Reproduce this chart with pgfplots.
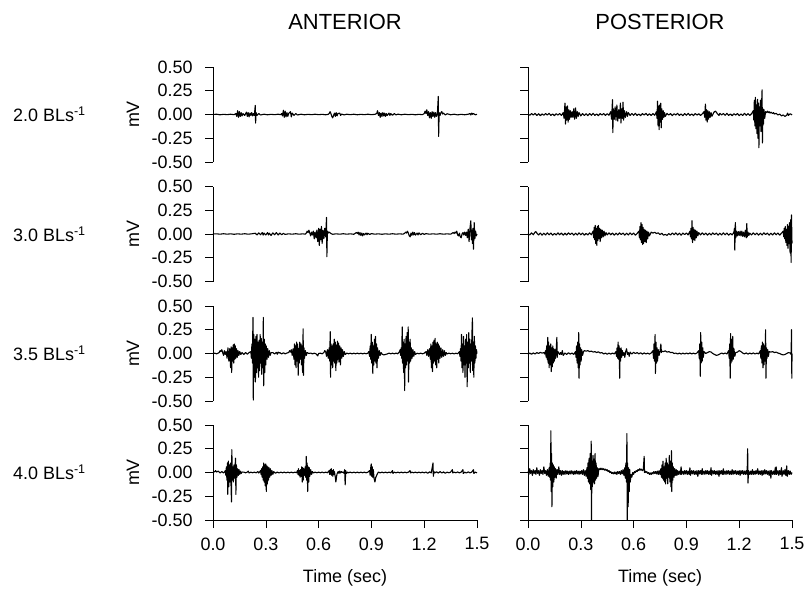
\documentclass[border=0pt]{standalone}
\usepackage{pgfplots}
\pgfplotsset{compat=1.18}
\usepackage{fontspec}
\setmainfont{Liberation Sans}
\pgfplotsset{
  emg/.style={
    scale only axis, width=264bp, height=95bp,
    xmin=0, xmax=1.5, ymin=-0.5, ymax=0.5,
    axis y line*=left,
    axis line style={-, line width=0.6pt, black},
    ytick={-0.5,-0.25,0,0.25,0.5},
    tick align=outside, major tick length=8bp,
    tick style={line width=0.6pt, black},
    /pgf/number format/assume math mode=true,
    yticklabel style={font=\fontsize{18}{18}\selectfont, xshift=-9bp, /pgf/number format/fixed, /pgf/number format/fixed zerofill, /pgf/number format/precision=2},
    xticklabel style={font=\fontsize{18}{18}\selectfont, yshift=-6bp, /pgf/number format/fixed, /pgf/number format/fixed zerofill, /pgf/number format/precision=1},
    clip=false,
    cycle list={{black, mark=none}},
    every axis plot post/.append style={black, line width=1.1pt, line join=round, mark=none},
  },
  toprow/.style={axis x line=none},
  bottomrow/.style={axis x line*=bottom, xtick={0,0.3,0.6,0.9,1.2,1.5}},
  rightcol/.style={yticklabels={}},
}
\begin{document}
\begin{tikzpicture}
\useasboundingbox (0,0) rectangle (805bp,-593bp);
% ---------------- Anterior 2.0
\begin{axis}[emg, toprow, at={(213bp,-67bp)}, anchor=north west]
\addplot coordinates {(0,0) (0.02,0.003) (0.04,-0.003) (0.06,0.002) (0.08,-0.002) (0.1,0.003) (0.12,-0.002)
(0.13,0.01) (0.135,-0.02) (0.14,0.04) (0.145,-0.03) (0.15,0.03) (0.155,-0.02) (0.16,0.02) (0.165,-0.015) (0.17,0.01) (0.18,-0.01) (0.19,0.025) (0.195,-0.02) (0.2,0.02) (0.205,-0.025) (0.21,0.015) (0.215,-0.01) (0.22,0.02) (0.225,-0.015) (0.23,0.01) (0.235,-0.01) (0.24,0.095) (0.242,-0.09) (0.245,0.02) (0.25,-0.01) (0.26,0.01) (0.27,-0.005)
(0.29,0.003) (0.31,-0.003) (0.33,0.002) (0.35,-0.002) (0.37,0.003) (0.385,-0.002)
(0.39,0.01) (0.395,-0.015) (0.4,0.045) (0.405,-0.03) (0.41,0.035) (0.415,-0.025) (0.42,0.02) (0.425,-0.02) (0.43,0.01) (0.44,0.03) (0.445,-0.025) (0.45,0.015) (0.46,-0.01) (0.47,0.01) (0.48,-0.005)
(0.5,0.003) (0.52,-0.003) (0.54,0.002) (0.56,-0.002) (0.58,0.003) (0.6,-0.002) (0.62,0.002) (0.64,-0.003) (0.655,0.002)
(0.66,0.01) (0.665,0.03) (0.67,0.01) (0.675,-0.02) (0.68,-0.035) (0.685,-0.01) (0.69,0.015) (0.695,-0.02) (0.7,0.02) (0.705,-0.015) (0.71,0.01) (0.72,0.015) (0.725,-0.01) (0.73,0.005) (0.745,-0.004)
(0.76,0.003) (0.78,-0.002) (0.8,0.003) (0.82,-0.003) (0.84,0.002) (0.86,-0.002) (0.88,0.003) (0.9,-0.002) (0.92,0.002)
(0.93,0.01) (0.935,0.04) (0.94,-0.01) (0.945,0.02) (0.95,-0.03) (0.955,0.015) (0.96,-0.02) (0.965,0.02) (0.97,-0.015) (0.975,0.015) (0.98,-0.02) (0.985,0.01) (0.99,-0.01) (1.0,0.015) (1.005,-0.01) (1.01,0.01) (1.02,-0.008) (1.03,0.01) (1.04,-0.005) (1.05,0.004)
(1.07,-0.003) (1.09,0.003) (1.11,-0.002) (1.13,0.002) (1.15,-0.003) (1.17,0.002) (1.19,-0.002)
(1.2,0.01) (1.205,0.035) (1.21,0.01) (1.215,0.05) (1.22,-0.01) (1.225,0.03) (1.23,-0.035) (1.235,0.02) (1.24,-0.04) (1.245,0.03) (1.25,-0.02) (1.255,0.025) (1.26,-0.03) (1.265,0.02) (1.27,-0.02) (1.275,0.01) (1.28,0.19) (1.282,-0.23) (1.285,0.02) (1.29,-0.01) (1.295,0.02) (1.3,0.03) (1.305,0.005) (1.31,0.015) (1.32,-0.005) (1.33,0.008)
(1.35,-0.003) (1.37,0.003) (1.39,-0.004) (1.41,0.002) (1.43,-0.003) (1.45,0.003) (1.46,0.01) (1.465,-0.005) (1.47,0.015) (1.475,0.002) (1.48,0.01) (1.49,-0.003) (1.5,0.002)};
\end{axis}
% ---------------- Posterior 2.0
\begin{axis}[emg, toprow, rightcol, at={(528bp,-67bp)}, anchor=north west]
\addplot coordinates {(0,0.005) (0.01,-0.008) (0.02,0.01) (0.03,-0.006) (0.04,0.012) (0.05,-0.01) (0.06,0.008) (0.07,-0.012) (0.08,0.006) (0.09,-0.008) (0.1,0.01) (0.11,-0.006) (0.12,0.012) (0.13,-0.01) (0.14,0.006) (0.15,-0.012) (0.16,0.008) (0.17,-0.006) (0.18,0.01) (0.19,-0.01)
(0.2,0.02) (0.205,-0.04) (0.21,0.12) (0.213,-0.1) (0.217,0.08) (0.22,-0.06) (0.224,0.09) (0.228,-0.08) (0.232,0.05) (0.236,-0.05) (0.24,0.04) (0.245,-0.03) (0.25,0.03) (0.255,-0.03) (0.26,0.06) (0.265,-0.05) (0.27,0.07) (0.275,-0.04) (0.28,0.03) (0.285,-0.02) (0.29,0.02) (0.3,-0.015) (0.31,0.01)
(0.32,-0.01) (0.33,0.008) (0.34,-0.012) (0.35,0.01) (0.36,-0.008) (0.37,0.012) (0.38,-0.01) (0.39,0.006) (0.4,-0.012) (0.41,0.01) (0.42,-0.006) (0.43,0.01) (0.44,-0.01) (0.45,0.008) (0.46,-0.008)
(0.47,0.03) (0.475,-0.05) (0.48,0.155) (0.482,-0.19) (0.485,0.06) (0.49,-0.05) (0.495,0.08) (0.5,-0.06) (0.505,0.1) (0.51,-0.07) (0.515,0.05) (0.52,-0.04) (0.525,0.12) (0.528,-0.09) (0.532,0.06) (0.536,-0.04) (0.54,0.13) (0.543,-0.06) (0.548,0.04) (0.553,-0.03) (0.56,0.03) (0.565,-0.02) (0.57,0.02) (0.58,-0.01)
(0.59,0.01) (0.6,-0.008) (0.61,0.012) (0.62,-0.01) (0.63,0.006) (0.64,-0.012) (0.65,0.01) (0.66,-0.006) (0.67,0.012) (0.68,-0.01) (0.69,0.008) (0.7,-0.01) (0.71,0.01) (0.72,-0.008)
(0.73,0.03) (0.733,-0.04) (0.736,0.14) (0.739,-0.12) (0.742,0.09) (0.745,-0.16) (0.748,0.1) (0.751,-0.08) (0.754,0.12) (0.757,-0.14) (0.76,0.06) (0.764,-0.05) (0.768,0.04) (0.772,-0.03) (0.776,0.02) (0.78,-0.02)
(0.79,0.012) (0.8,-0.006) (0.81,0.01) (0.82,-0.012) (0.83,0.008) (0.84,-0.006) (0.85,0.012) (0.86,-0.01) (0.87,0.006) (0.88,-0.012) (0.89,0.01) (0.9,-0.008) (0.91,0.012) (0.92,-0.01) (0.93,0.006) (0.94,-0.012) (0.95,0.01) (0.96,-0.006) (0.97,0.008) (0.98,-0.01) (0.99,0.006)
(1.0,0.03) (1.004,-0.03) (1.008,0.11) (1.011,-0.06) (1.014,0.05) (1.018,-0.08) (1.022,0.04) (1.026,-0.05) (1.03,0.03) (1.035,-0.03) (1.04,0.02) (1.045,-0.02)
(1.05,0.0) (1.055,0.02) (1.06,0.03) (1.065,0.035) (1.07,0.025) (1.075,0.01) (1.08,0.0) (1.085,-0.01)
(1.09,0.012) (1.1,-0.004) (1.11,0.01) (1.12,-0.008) (1.13,0.012) (1.14,-0.01) (1.15,0.006) (1.16,-0.012) (1.17,0.008) (1.18,-0.006) (1.19,0.01) (1.2,-0.012) (1.21,0.006) (1.22,-0.01) (1.23,0.012) (1.24,-0.008) (1.25,0.01) (1.26,-0.01) (1.27,0.008)
(1.28,0.04) (1.283,-0.06) (1.286,0.15) (1.289,-0.12) (1.292,0.18) (1.295,-0.15) (1.298,0.1) (1.301,-0.2) (1.304,0.16) (1.307,-0.25) (1.31,0.12) (1.312,-0.35) (1.315,0.08) (1.318,-0.12) (1.321,0.15) (1.324,-0.18) (1.327,0.1) (1.33,0.26) (1.332,-0.3) (1.335,0.06) (1.338,-0.1) (1.341,0.05) (1.345,-0.04) (1.35,0.03)
(1.355,0.02) (1.36,0.035) (1.365,0.02) (1.37,0.03) (1.375,0.015) (1.38,0.025) (1.39,0.01) (1.395,0.02) (1.4,0.005) (1.41,0.012) (1.42,-0.005) (1.43,0.005) (1.44,-0.015) (1.45,-0.005) (1.46,-0.02) (1.47,-0.008) (1.475,0.015) (1.48,-0.01) (1.49,0.008) (1.5,-0.004)};
\end{axis}
% ---------------- Anterior 3.0
\begin{axis}[emg, toprow, at={(213bp,-186.5bp)}, anchor=north west]
\addplot coordinates {(0,0) (0.02,0.002) (0.04,-0.002) (0.06,0.003) (0.08,-0.002) (0.1,0.002) (0.12,-0.003) (0.14,0.002) (0.16,-0.002) (0.18,0.003) (0.2,-0.002) (0.22,0.002)
(0.24,0.008) (0.25,-0.01) (0.26,0.012) (0.27,-0.008) (0.28,0.015) (0.285,-0.012) (0.29,0.01) (0.3,-0.01) (0.31,0.015) (0.315,-0.01) (0.32,0.008) (0.33,-0.015) (0.34,0.012) (0.35,-0.008) (0.36,0.015) (0.37,-0.01) (0.38,0.01) (0.39,-0.008) (0.4,0.006) (0.41,-0.004)
(0.43,0.002) (0.45,-0.002) (0.47,0.003) (0.49,-0.002) (0.51,0.002) (0.525,-0.002)
(0.53,0.01) (0.535,0.03) (0.54,0.015) (0.545,0.04) (0.55,0.01) (0.555,-0.02) (0.56,0.02) (0.565,-0.01) (0.57,0.03) (0.575,-0.05) (0.58,0.02) (0.585,-0.04) (0.59,0.04) (0.595,-0.08) (0.6,0.06) (0.604,-0.12) (0.608,0.05) (0.612,-0.06) (0.616,0.08) (0.62,-0.1) (0.625,0.04) (0.63,-0.05) (0.635,0.06) (0.64,-0.03) (0.645,0.175) (0.647,-0.24) (0.65,0.03) (0.655,0.01) (0.66,0.02) (0.67,0.005) (0.68,-0.003)
(0.7,0.002) (0.72,-0.002) (0.74,0.003) (0.76,-0.002) (0.78,0.002) (0.8,-0.003)
(0.81,0.01) (0.815,0.015) (0.82,0.005) (0.825,0.02) (0.83,-0.01) (0.835,0.015) (0.84,-0.015) (0.845,0.01) (0.85,-0.02) (0.855,0.005) (0.86,-0.01) (0.87,0.01) (0.875,-0.008) (0.88,0.008) (0.89,-0.005) (0.9,0.004)
(0.92,-0.002) (0.94,0.002) (0.96,-0.003) (0.98,0.002) (1.0,-0.002) (1.02,0.003) (1.04,-0.002) (1.06,0.002) (1.08,-0.002)
(1.09,0.01) (1.095,0.02) (1.1,0.01) (1.105,0.03) (1.11,0.01) (1.115,-0.02) (1.12,-0.03) (1.125,0.01) (1.13,-0.015) (1.135,0.02) (1.14,-0.01) (1.145,0.015) (1.15,-0.012) (1.16,0.01) (1.165,-0.01) (1.17,0.012) (1.18,-0.008) (1.19,0.008) (1.2,-0.005) (1.21,0.004)
(1.23,-0.002) (1.25,0.002) (1.27,-0.002) (1.29,0.003) (1.31,-0.002) (1.33,0.002) (1.35,-0.002)
(1.36,0.01) (1.365,0.015) (1.37,0.005) (1.375,0.02) (1.38,0.01) (1.385,0.03) (1.39,-0.01) (1.395,-0.02) (1.4,0.01) (1.405,-0.03) (1.41,-0.04) (1.415,0.0) (1.42,0.015) (1.425,-0.01) (1.43,0.02) (1.435,-0.015) (1.44,0.02) (1.445,-0.04) (1.45,0.05) (1.455,-0.08) (1.46,0.06) (1.465,0.14) (1.468,-0.06) (1.471,0.04) (1.474,-0.1) (1.477,0.06) (1.48,-0.16) (1.484,0.12) (1.488,-0.05) (1.492,0.03) (1.496,-0.02) (1.5,0.0)};
\end{axis}
% ---------------- Posterior 3.0
\begin{axis}[emg, toprow, rightcol, at={(528bp,-186.5bp)}, anchor=north west]
\addplot coordinates {(0,0.005) (0.01,-0.01) (0.02,0.012) (0.03,-0.008) (0.04,0.02) (0.045,0.025) (0.05,0.01) (0.06,-0.01) (0.07,0.01) (0.08,-0.012) (0.09,0.008) (0.1,-0.01) (0.11,0.012) (0.12,-0.008) (0.13,0.01) (0.14,-0.012) (0.15,0.006) (0.16,-0.01) (0.17,0.012) (0.18,-0.008) (0.19,0.01) (0.2,-0.012) (0.21,0.008) (0.22,-0.01) (0.23,0.012) (0.24,-0.006) (0.25,0.01) (0.26,-0.012) (0.27,0.008) (0.28,-0.01) (0.29,0.012) (0.3,-0.008) (0.31,0.01) (0.32,-0.012) (0.33,0.006) (0.34,-0.01) (0.35,0.012) (0.36,-0.008)
(0.37,0.03) (0.373,-0.04) (0.376,0.07) (0.379,-0.06) (0.382,0.09) (0.385,-0.1) (0.388,0.06) (0.391,-0.12) (0.394,0.08) (0.397,-0.07) (0.4,0.09) (0.403,-0.05) (0.406,0.06) (0.41,-0.08) (0.414,0.05) (0.418,-0.04) (0.422,0.04) (0.427,-0.03) (0.432,0.03) (0.437,-0.02) (0.443,0.015) (0.45,-0.01)
(0.46,0.012) (0.47,-0.008) (0.48,0.01) (0.49,-0.012) (0.5,0.008) (0.51,-0.01) (0.52,0.012) (0.53,-0.006) (0.54,0.01) (0.55,-0.012) (0.56,0.008) (0.57,-0.01) (0.58,0.012) (0.59,-0.008) (0.6,0.01) (0.61,-0.012) (0.62,0.006)
(0.63,0.03) (0.633,-0.04) (0.636,0.08) (0.639,-0.06) (0.642,0.12) (0.645,-0.09) (0.648,0.1) (0.651,-0.11) (0.654,0.07) (0.657,-0.1) (0.66,0.05) (0.664,-0.08) (0.668,0.04) (0.672,-0.09) (0.676,0.03) (0.68,-0.05) (0.685,0.02) (0.69,-0.02)
(0.7,0.02) (0.71,0.01) (0.72,0.018) (0.73,0.005) (0.74,0.012) (0.75,-0.006) (0.76,0.008) (0.77,-0.012) (0.78,-0.004) (0.79,-0.014) (0.8,0.004) (0.81,-0.01) (0.82,0.01) (0.83,-0.008) (0.84,0.012) (0.85,-0.01) (0.86,0.008) (0.87,-0.012) (0.88,0.01) (0.89,-0.006) (0.9,0.01) (0.91,-0.01)
(0.92,0.03) (0.923,-0.03) (0.926,0.06) (0.929,-0.05) (0.932,0.14) (0.935,-0.09) (0.938,0.07) (0.941,-0.06) (0.944,0.05) (0.948,-0.07) (0.952,0.04) (0.956,-0.04) (0.96,0.03) (0.965,-0.02) (0.97,0.015)
(0.98,-0.01) (0.99,0.012) (1.0,-0.008) (1.01,0.01) (1.02,-0.012) (1.03,0.008) (1.04,-0.01) (1.05,0.012) (1.06,-0.006) (1.07,0.01) (1.08,-0.012) (1.09,0.008) (1.1,-0.01) (1.11,0.012) (1.12,-0.008) (1.13,0.01) (1.14,-0.012) (1.15,0.006) (1.16,-0.01)
(1.17,0.02) (1.173,0.06) (1.175,-0.17) (1.178,0.12) (1.181,-0.04) (1.185,0.03) (1.19,-0.02) (1.195,0.025) (1.2,-0.015) (1.205,0.03) (1.21,-0.02) (1.215,0.03) (1.22,-0.025) (1.225,0.02) (1.23,-0.03) (1.235,0.04) (1.24,-0.04) (1.243,0.11) (1.246,-0.03) (1.25,0.02) (1.255,-0.015) (1.26,0.01)
(1.27,-0.01) (1.28,0.012) (1.29,-0.008) (1.3,0.01) (1.31,-0.012) (1.32,0.008) (1.33,-0.01) (1.34,0.012) (1.35,-0.006) (1.36,0.01) (1.37,-0.012) (1.38,0.008) (1.39,-0.01) (1.4,0.012) (1.41,-0.008) (1.42,0.01) (1.43,-0.012) (1.44,0.008)
(1.45,0.03) (1.453,-0.03) (1.456,0.06) (1.459,-0.05) (1.462,0.08) (1.465,-0.09) (1.468,0.05) (1.471,-0.12) (1.474,0.1) (1.477,-0.15) (1.48,0.08) (1.483,-0.1) (1.486,0.12) (1.489,-0.2) (1.492,0.15) (1.495,-0.3) (1.497,0.2) (1.5,-0.1)};
\end{axis}
% ---------------- Anterior 3.5
\begin{axis}[emg, toprow, at={(213bp,-306bp)}, anchor=north west]
\addplot coordinates {(0,0) (0.01,0.003) (0.02,-0.003) (0.03,0.004)
(0.035,0.01) (0.04,0.03) (0.045,0.02) (0.05,0.04) (0.055,0.01) (0.06,-0.02) (0.065,0.03) (0.07,-0.01) (0.075,0.02) (0.08,-0.05) (0.085,0.06) (0.09,-0.08) (0.095,0.05) (0.1,-0.15) (0.103,0.07) (0.106,-0.2) (0.109,0.06) (0.112,-0.08) (0.115,0.09) (0.118,-0.1) (0.121,0.1) (0.124,-0.06) (0.127,0.08) (0.13,-0.05) (0.134,0.05) (0.138,-0.04) (0.142,0.03) (0.147,-0.02) (0.152,0.02) (0.158,-0.01) (0.165,0.01)
(0.175,-0.01) (0.185,0.01) (0.195,-0.008) (0.205,0.01)
(0.215,0.02) (0.218,-0.05) (0.221,0.1) (0.224,-0.1) (0.227,0.38) (0.229,-0.49) (0.232,0.2) (0.235,-0.25) (0.238,0.15) (0.241,-0.3) (0.244,0.18) (0.247,-0.2) (0.25,0.2) (0.253,-0.15) (0.256,0.12) (0.259,-0.25) (0.262,0.14) (0.265,-0.18) (0.268,0.2) (0.271,-0.1) (0.274,0.16) (0.277,-0.22) (0.28,0.12) (0.283,-0.15) (0.286,0.38) (0.288,-0.34) (0.291,0.15) (0.294,-0.2) (0.297,0.1) (0.3,-0.12) (0.303,0.08) (0.307,-0.06) (0.311,0.05) (0.315,-0.04) (0.32,0.03) (0.325,-0.02) (0.33,0.01)
(0.34,0.01) (0.35,-0.005) (0.36,0.012) (0.365,-0.008) (0.37,0.015) (0.375,0.005) (0.38,0.01) (0.39,-0.005) (0.4,0.008) (0.41,-0.004) (0.42,0.005)
(0.43,0.01) (0.435,0.03) (0.44,0.015) (0.445,0.04) (0.45,-0.02) (0.455,0.05) (0.46,-0.06) (0.463,0.1) (0.466,-0.12) (0.469,0.08) (0.472,-0.15) (0.475,0.12) (0.478,-0.08) (0.481,0.1) (0.484,-0.23) (0.487,0.05) (0.49,-0.1) (0.493,0.12) (0.496,-0.06) (0.5,0.1) (0.503,-0.12) (0.506,0.08) (0.509,-0.2) (0.512,0.26) (0.514,-0.23) (0.517,0.06) (0.52,-0.05) (0.525,0.03) (0.53,-0.02) (0.535,0.01)
(0.545,0.0) (0.555,0.005) (0.565,-0.004) (0.575,0.003) (0.585,-0.003) (0.595,-0.025) (0.6,0.0) (0.61,0.004) (0.62,-0.003)
(0.63,0.01) (0.635,0.03) (0.64,0.02) (0.645,-0.03) (0.65,0.04) (0.655,-0.05) (0.66,0.06) (0.663,-0.08) (0.666,0.23) (0.668,-0.25) (0.671,0.1) (0.674,-0.12) (0.677,0.08) (0.68,-0.15) (0.683,0.1) (0.686,-0.08) (0.689,0.15) (0.692,-0.1) (0.695,0.12) (0.698,-0.18) (0.701,0.09) (0.704,-0.1) (0.707,0.13) (0.71,-0.06) (0.713,0.11) (0.716,-0.09) (0.72,0.08) (0.724,-0.12) (0.728,0.06) (0.732,-0.05) (0.736,0.04) (0.741,-0.03) (0.746,0.02) (0.752,-0.01) (0.76,0.005)
(0.77,-0.003) (0.78,0.003) (0.79,-0.004) (0.8,0.003) (0.81,-0.003) (0.82,0.004) (0.83,-0.003) (0.84,0.003) (0.85,-0.004) (0.86,0.003) (0.87,-0.003) (0.88,0.004)
(0.885,0.02) (0.89,-0.03) (0.893,0.08) (0.896,-0.06) (0.899,0.2) (0.902,-0.1) (0.905,0.12) (0.908,-0.21) (0.911,0.08) (0.914,-0.12) (0.917,0.15) (0.92,-0.08) (0.923,0.18) (0.926,-0.1) (0.929,0.1) (0.932,-0.15) (0.935,0.06) (0.94,-0.05) (0.945,0.03) (0.95,-0.02) (0.955,0.01) (0.96,-0.005)
(0.97,-0.015) (0.98,-0.01) (0.99,-0.005) (1.0,0.004) (1.01,-0.003) (1.02,0.003) (1.03,-0.003) (1.04,0.004) (1.05,-0.003)
(1.06,0.02) (1.063,0.04) (1.066,-0.02) (1.069,0.06) (1.072,-0.05) (1.075,0.28) (1.077,-0.1) (1.08,0.12) (1.083,-0.2) (1.086,0.15) (1.089,-0.39) (1.091,0.1) (1.094,-0.15) (1.097,0.18) (1.1,-0.12) (1.103,0.22) (1.106,-0.08) (1.109,0.28) (1.111,-0.3) (1.114,0.12) (1.117,-0.1) (1.12,0.15) (1.123,-0.08) (1.127,0.06) (1.131,-0.05) (1.136,0.04) (1.141,-0.03) (1.146,0.02) (1.15,-0.01)
(1.16,0.003) (1.17,-0.003) (1.18,0.004) (1.19,-0.003) (1.2,0.003)
(1.21,0.02) (1.215,-0.02) (1.22,0.04) (1.225,-0.03) (1.23,0.05) (1.235,-0.06) (1.238,0.1) (1.241,-0.15) (1.244,0.08) (1.247,-0.19) (1.25,0.12) (1.253,-0.1) (1.256,0.14) (1.259,-0.08) (1.262,0.16) (1.265,-0.12) (1.268,0.1) (1.271,-0.15) (1.274,0.12) (1.277,-0.06) (1.28,0.1) (1.283,-0.1) (1.286,0.08) (1.29,-0.05) (1.295,0.06) (1.3,-0.04) (1.305,0.04) (1.31,-0.03) (1.315,0.03) (1.32,-0.02) (1.325,0.01) (1.33,-0.005)
(1.34,0.004) (1.35,-0.003) (1.36,0.003) (1.37,-0.004) (1.38,0.003) (1.39,-0.003)
(1.4,0.02) (1.403,-0.03) (1.406,0.05) (1.409,-0.08) (1.412,0.2) (1.414,-0.15) (1.417,0.1) (1.42,-0.2) (1.423,0.18) (1.426,-0.12) (1.429,0.08) (1.432,-0.25) (1.435,0.15) (1.438,-0.1) (1.441,0.2) (1.444,-0.35) (1.447,0.12) (1.45,-0.15) (1.453,0.22) (1.456,-0.1) (1.459,0.15) (1.462,-0.2) (1.465,0.1) (1.468,-0.08) (1.471,0.2) (1.474,0.375) (1.476,-0.18) (1.479,0.12) (1.482,-0.25) (1.485,0.18) (1.488,-0.1) (1.491,0.08) (1.494,-0.05) (1.497,0.04) (1.5,0.0)};
\end{axis}
% ---------------- Posterior 3.5
\begin{axis}[emg, toprow, rightcol, at={(528bp,-306bp)}, anchor=north west]
\addplot coordinates {(0,-0.01) (0.01,0.005) (0.02,-0.008) (0.03,0.006) (0.04,-0.005) (0.05,0.01) (0.06,0.0) (0.07,0.012) (0.08,0.004) (0.09,0.01) (0.095,-0.005)
(0.1,0.03) (0.103,-0.04) (0.106,0.08) (0.109,-0.06) (0.112,0.17) (0.114,-0.1) (0.117,0.12) (0.12,-0.15) (0.123,0.08) (0.126,-0.12) (0.129,0.1) (0.132,-0.19) (0.135,0.06) (0.138,-0.14) (0.141,0.08) (0.144,-0.1) (0.147,0.05) (0.15,-0.08) (0.153,0.04) (0.156,-0.05) (0.16,0.03) (0.164,0.17) (0.166,-0.04) (0.17,0.02)
(0.18,-0.01) (0.185,0.01) (0.19,-0.01) (0.195,0.03) (0.2,-0.02) (0.21,0.005) (0.22,-0.01) (0.23,0.008) (0.24,-0.006) (0.25,0.005) (0.26,-0.01)
(0.27,0.02) (0.273,-0.04) (0.276,0.08) (0.279,-0.1) (0.282,0.12) (0.285,-0.15) (0.288,0.22) (0.29,-0.26) (0.293,0.1) (0.296,-0.12) (0.299,0.06) (0.302,-0.08) (0.305,0.04) (0.31,-0.02)
(0.315,0.02) (0.32,0.03) (0.33,0.025) (0.34,0.03) (0.35,0.02) (0.36,0.025) (0.37,0.015) (0.38,0.02) (0.39,0.01) (0.4,0.018) (0.41,0.005) (0.42,0.01) (0.43,-0.005) (0.44,0.005) (0.45,-0.008) (0.46,0.004) (0.47,-0.006) (0.48,0.005) (0.49,-0.005)
(0.5,0.02) (0.503,-0.03) (0.506,0.06) (0.509,-0.05) (0.512,0.12) (0.515,-0.06) (0.518,0.08) (0.521,-0.26) (0.523,0.05) (0.526,-0.08) (0.529,0.06) (0.532,-0.04) (0.536,0.03) (0.54,-0.02)
(0.545,0.01) (0.55,-0.04) (0.555,0.02) (0.56,0.05) (0.565,-0.01) (0.57,0.01) (0.575,-0.03) (0.58,0.015) (0.59,-0.005) (0.6,0.012) (0.61,0.0) (0.62,0.01) (0.63,-0.004) (0.64,0.008) (0.65,-0.006) (0.66,0.006) (0.67,-0.005) (0.68,0.004) (0.69,-0.006) (0.7,0.005)
(0.71,0.03) (0.713,-0.05) (0.716,0.1) (0.719,-0.08) (0.722,0.2) (0.724,-0.21) (0.727,0.12) (0.73,-0.1) (0.733,0.06) (0.736,-0.08) (0.74,0.04) (0.745,-0.02)
(0.75,0.02) (0.755,0.1) (0.758,0.01) (0.76,0.025) (0.77,0.02) (0.78,0.028) (0.79,0.015) (0.8,0.02) (0.81,0.01) (0.82,0.012) (0.83,0.0) (0.84,0.005) (0.85,-0.005) (0.86,0.004) (0.87,-0.006) (0.88,0.004) (0.89,-0.005) (0.9,0.005) (0.91,-0.004) (0.92,0.006) (0.93,-0.005) (0.94,0.004) (0.95,-0.004) (0.96,0.005)
(0.97,0.03) (0.973,-0.05) (0.976,0.1) (0.979,-0.24) (0.981,0.22) (0.984,-0.1) (0.987,0.12) (0.99,-0.08) (0.993,0.06) (0.996,-0.04) (1.0,0.02)
(1.01,0.0) (1.02,0.01) (1.03,0.02) (1.04,0.015) (1.05,0.0) (1.06,-0.01) (1.07,-0.02) (1.08,-0.015) (1.09,-0.005) (1.1,0.005) (1.11,-0.004) (1.12,0.005) (1.13,-0.005)
(1.14,0.03) (1.143,-0.05) (1.146,0.1) (1.149,-0.26) (1.151,0.21) (1.154,-0.1) (1.157,0.15) (1.16,-0.08) (1.163,0.18) (1.166,-0.06) (1.17,0.05) (1.175,-0.03) (1.18,0.01)
(1.19,0.015) (1.2,0.03) (1.21,0.02) (1.22,0.005) (1.23,-0.004) (1.24,0.006) (1.25,-0.006) (1.26,0.005) (1.27,-0.005) (1.28,0.006) (1.29,-0.005) (1.3,0.004) (1.31,-0.005)
(1.32,0.03) (1.323,-0.05) (1.326,0.08) (1.329,-0.1) (1.332,0.12) (1.335,-0.15) (1.338,0.1) (1.341,-0.12) (1.344,0.08) (1.347,-0.08) (1.35,0.25) (1.352,-0.26) (1.355,0.06) (1.358,-0.05) (1.362,0.04) (1.366,-0.03) (1.37,0.02)
(1.38,0.015) (1.39,0.02) (1.4,0.01) (1.41,0.015) (1.42,0.005) (1.43,0.0) (1.44,-0.01) (1.45,-0.015) (1.46,-0.01) (1.47,0.0) (1.48,0.01) (1.49,0.005) (1.495,-0.01)
(1.497,0.25) (1.499,-0.26) (1.5,0.0)};
\end{axis}
% ---------------- Anterior 4.0
\begin{axis}[emg, bottomrow, at={(213bp,-425bp)}, anchor=north west]
\addplot coordinates {(0,0) (0.01,0.01) (0.015,0.02) (0.02,0.005) (0.03,0.015) (0.04,-0.005) (0.05,0.01) (0.06,-0.005) (0.065,0.005)
(0.07,0.02) (0.073,-0.03) (0.076,0.06) (0.079,-0.08) (0.082,0.1) (0.084,-0.23) (0.087,0.12) (0.09,-0.15) (0.093,0.08) (0.096,-0.1) (0.099,0.1) (0.105,-0.31) (0.107,0.24) (0.11,-0.08) (0.113,0.06) (0.116,-0.1) (0.119,0.08) (0.122,-0.06) (0.128,0.15) (0.13,-0.23) (0.133,0.08) (0.136,-0.05) (0.14,0.04) (0.144,-0.03) (0.148,0.03) (0.152,-0.02) (0.156,0.015) (0.16,-0.01) (0.165,0.005)
(0.175,0.004) (0.185,-0.003) (0.195,0.004) (0.2,0.015) (0.205,-0.005) (0.215,0.004) (0.225,-0.003) (0.235,0.004) (0.245,-0.003) (0.255,0.01) (0.26,-0.005) (0.265,0.005)
(0.27,0.02) (0.273,-0.02) (0.276,0.04) (0.279,-0.05) (0.282,0.06) (0.285,-0.08) (0.288,0.1) (0.291,-0.1) (0.294,0.08) (0.297,-0.14) (0.3,0.09) (0.303,-0.2) (0.306,0.07) (0.309,-0.12) (0.312,0.06) (0.315,-0.08) (0.318,0.05) (0.322,-0.05) (0.326,0.04) (0.33,-0.03) (0.335,0.02) (0.34,-0.02) (0.345,0.01) (0.355,-0.008) (0.365,0.005) (0.375,-0.005)
(0.385,0.004) (0.395,-0.003) (0.405,0.004) (0.415,-0.003) (0.425,0.004) (0.435,-0.003) (0.445,0.004) (0.455,-0.003) (0.465,0.004) (0.475,-0.003)
(0.48,0.02) (0.483,-0.02) (0.486,0.04) (0.489,-0.03) (0.492,0.02) (0.495,-0.05) (0.498,0.03) (0.501,-0.04) (0.504,0.06) (0.507,-0.1) (0.51,0.05) (0.513,-0.08) (0.516,0.04) (0.52,-0.03) (0.524,0.06) (0.527,-0.05) (0.53,0.17) (0.532,-0.08) (0.535,0.1) (0.538,-0.2) (0.541,0.06) (0.544,-0.1) (0.547,0.05) (0.55,-0.04) (0.555,0.03) (0.56,-0.02) (0.565,0.01) (0.57,-0.005)
(0.58,0.004) (0.59,-0.003) (0.6,0.004) (0.61,-0.003) (0.62,0.005) (0.63,-0.003) (0.64,0.004) (0.65,-0.003)
(0.66,0.02) (0.663,-0.02) (0.666,0.03) (0.669,-0.02) (0.672,0.04) (0.675,-0.03) (0.678,0.02) (0.681,-0.04) (0.684,0.03) (0.687,-0.02) (0.69,0.01) (0.695,-0.05) (0.698,-0.1) (0.701,-0.06) (0.704,-0.02) (0.708,0.0) (0.712,0.01) (0.716,-0.01) (0.72,0.015) (0.725,-0.005) (0.73,0.01) (0.735,0.0) (0.74,0.005) (0.745,-0.01) (0.748,0.03) (0.751,-0.13) (0.754,0.02) (0.758,-0.01) (0.765,0.005) (0.77,-0.003)
(0.78,0.004) (0.79,-0.003) (0.8,0.004) (0.81,-0.003) (0.82,0.004) (0.83,-0.003) (0.84,0.004) (0.85,-0.003) (0.86,0.004) (0.87,-0.003) (0.88,0.004)
(0.89,0.02) (0.893,-0.03) (0.896,0.05) (0.899,0.09) (0.902,-0.04) (0.905,0.06) (0.908,-0.05) (0.911,0.03) (0.915,-0.06) (0.92,-0.1) (0.925,-0.05) (0.93,-0.03) (0.935,-0.01) (0.94,0.005) (0.95,-0.004)
(0.96,0.004) (0.97,-0.003) (0.98,0.004) (0.99,-0.003) (1.0,0.004) (1.01,-0.003) (1.02,0.02) (1.022,-0.01) (1.03,0.004) (1.04,-0.003) (1.05,0.004) (1.06,-0.003) (1.07,0.004) (1.08,-0.003) (1.09,0.004) (1.1,-0.003) (1.11,0.004) (1.12,0.02) (1.122,-0.005) (1.13,0.004) (1.14,-0.003) (1.15,0.004) (1.16,-0.003) (1.17,0.004) (1.18,-0.003) (1.19,0.004) (1.2,-0.003) (1.21,0.005) (1.22,-0.008) (1.23,0.006) (1.24,-0.004) (1.25,0.1) (1.252,-0.04) (1.255,0.01) (1.26,-0.005) (1.27,0.008) (1.28,-0.006) (1.29,0.01) (1.3,-0.005) (1.31,0.006) (1.32,-0.008) (1.33,0.004) (1.34,-0.003) (1.35,0.004) (1.36,0.03) (1.362,-0.005) (1.37,0.004) (1.38,-0.003) (1.39,0.006) (1.4,-0.004) (1.41,0.004) (1.42,0.03) (1.422,-0.01) (1.43,0.004) (1.44,-0.005) (1.45,0.006) (1.46,-0.003) (1.47,0.004) (1.48,0.03) (1.482,-0.01) (1.49,0.004) (1.5,-0.003)};
\end{axis}
% ---------------- Posterior 4.0
\begin{axis}[emg, bottomrow, rightcol, at={(528bp,-425bp)}, anchor=north west]
\addplot coordinates {(0,0.01) (0.005,-0.02) (0.01,0.04) (0.015,-0.01) (0.02,0.02) (0.025,-0.03) (0.03,0.03) (0.035,-0.01) (0.04,0.02) (0.045,-0.02) (0.05,0.05) (0.055,-0.01) (0.06,0.02) (0.065,-0.03) (0.07,0.03) (0.075,-0.01) (0.08,0.02) (0.085,-0.02) (0.09,0.06) (0.095,-0.01) (0.1,0.02) (0.105,-0.03) (0.11,0.03) (0.115,-0.04) (0.12,0.05)
(0.123,-0.05) (0.126,0.1) (0.128,-0.08) (0.13,0.44) (0.132,-0.2) (0.134,0.2) (0.136,-0.36) (0.138,0.1) (0.141,-0.15) (0.144,0.08) (0.147,-0.1) (0.15,0.06) (0.153,-0.05) (0.156,0.04) (0.16,-0.06) (0.165,0.03) (0.17,-0.02) (0.175,0.06) (0.18,-0.02) (0.185,0.02) (0.19,-0.03) (0.195,0.02) (0.2,-0.02) (0.205,0.015) (0.21,-0.02) (0.215,0.02) (0.22,-0.015) (0.225,0.015) (0.23,-0.02) (0.235,0.015) (0.24,-0.015) (0.245,0.02) (0.25,-0.015) (0.255,0.015) (0.26,-0.02) (0.265,0.015) (0.27,-0.015) (0.275,0.02) (0.28,-0.015) (0.285,0.015) (0.29,-0.02) (0.295,0.015) (0.3,-0.015) (0.305,0.02) (0.31,-0.02) (0.315,0.03) (0.32,-0.03) (0.325,0.02) (0.33,-0.04)
(0.335,0.05) (0.338,-0.06) (0.341,0.1) (0.344,-0.1) (0.347,0.15) (0.35,-0.12) (0.353,0.2) (0.356,-0.18) (0.359,0.33) (0.361,-0.5) (0.363,0.12) (0.366,-0.15) (0.369,0.18) (0.372,-0.1) (0.375,0.14) (0.378,-0.12) (0.381,0.2) (0.384,-0.08) (0.387,0.1) (0.39,-0.06) (0.394,0.05) (0.398,-0.04) (0.402,0.04)
(0.406,0.03) (0.41,0.045) (0.415,0.03) (0.42,0.045) (0.425,0.03) (0.43,0.04) (0.435,0.025) (0.44,0.035) (0.445,0.02) (0.45,0.03) (0.455,0.01) (0.46,0.02) (0.465,0.0) (0.47,0.01) (0.475,-0.01) (0.48,0.0) (0.485,-0.015) (0.49,0.005) (0.495,-0.015) (0.5,0.005) (0.505,-0.02) (0.51,0.01) (0.515,-0.01) (0.52,0.01) (0.525,-0.02) (0.53,0.02) (0.535,-0.015) (0.54,0.03) (0.545,-0.03)
(0.55,0.05) (0.553,-0.06) (0.556,0.1) (0.559,-0.1) (0.562,0.41) (0.564,-0.5) (0.566,0.1) (0.569,-0.36) (0.572,0.05) (0.575,-0.2) (0.578,0.03) (0.581,-0.1) (0.585,-0.02) (0.59,-0.05) (0.595,0.0) (0.6,-0.02)
(0.605,0.01) (0.61,0.0) (0.615,0.02) (0.62,0.01) (0.625,0.03) (0.63,0.02) (0.635,0.04) (0.64,0.025) (0.645,0.035) (0.65,0.02) (0.655,0.03) (0.66,0.17) (0.662,0.0) (0.665,0.015) (0.67,0.0) (0.675,0.01) (0.68,-0.01) (0.685,0.0) (0.69,-0.02) (0.695,-0.005) (0.7,-0.02) (0.705,0.0) (0.71,-0.015) (0.715,0.01) (0.72,-0.01) (0.725,0.01) (0.73,-0.015) (0.735,0.015) (0.74,-0.02) (0.745,0.02) (0.75,-0.02)
(0.755,0.04) (0.758,-0.05) (0.761,0.08) (0.764,-0.06) (0.767,0.12) (0.77,-0.08) (0.773,0.06) (0.776,-0.1) (0.779,0.1) (0.782,-0.12) (0.785,0.15) (0.788,-0.06) (0.791,0.1) (0.794,-0.12) (0.797,0.08) (0.8,-0.05) (0.803,0.18) (0.806,-0.1) (0.809,0.12) (0.812,-0.15) (0.815,0.23) (0.817,-0.2) (0.82,0.1) (0.823,-0.08) (0.826,0.06) (0.83,-0.05) (0.834,0.04) (0.838,-0.03) (0.842,0.03)
(0.846,-0.03) (0.85,0.02) (0.855,-0.02) (0.86,0.015) (0.865,-0.02) (0.87,0.06) (0.873,-0.02) (0.88,0.015) (0.885,-0.02) (0.89,0.02) (0.895,-0.015) (0.9,0.02) (0.905,-0.02) (0.91,0.015) (0.915,-0.02) (0.92,0.05) (0.923,-0.03) (0.93,0.02) (0.935,-0.015) (0.94,0.02) (0.945,-0.02) (0.95,0.015) (0.955,-0.02) (0.96,0.02) (0.965,-0.04) (0.97,0.02) (0.975,-0.015) (0.98,0.02) (0.985,-0.02) (0.99,0.04) (0.993,-0.02) (1.0,0.015) (1.005,-0.02) (1.01,0.02) (1.015,-0.015) (1.02,0.02) (1.025,-0.02) (1.03,0.015) (1.035,-0.02) (1.04,0.05) (1.043,-0.03) (1.05,0.02) (1.055,-0.015) (1.06,0.02) (1.065,-0.02) (1.07,0.015) (1.075,-0.02) (1.08,0.02) (1.085,-0.04) (1.09,0.02) (1.095,-0.015) (1.1,0.02) (1.105,-0.02) (1.11,0.04) (1.113,-0.02) (1.12,0.015) (1.125,-0.02) (1.13,0.02) (1.135,-0.015) (1.14,0.02) (1.145,-0.02) (1.15,0.015) (1.155,-0.02) (1.16,0.03) (1.165,-0.02) (1.17,0.02) (1.175,-0.015) (1.18,0.02) (1.185,-0.02) (1.19,0.015) (1.195,-0.02) (1.2,0.02) (1.205,-0.03) (1.21,0.02) (1.215,-0.015) (1.22,0.02) (1.225,-0.02) (1.23,0.015) (1.235,-0.02) (1.24,0.02) (1.245,-0.02) (1.248,0.25) (1.25,-0.11) (1.253,0.02) (1.26,-0.02) (1.265,0.015) (1.27,-0.02) (1.275,0.03) (1.28,-0.02) (1.285,0.015) (1.29,-0.02) (1.295,0.02) (1.3,-0.015) (1.305,0.04) (1.31,-0.02) (1.315,0.015) (1.32,-0.02) (1.325,0.02) (1.33,-0.03) (1.335,0.02) (1.34,-0.02) (1.345,0.03) (1.35,-0.015) (1.355,0.02) (1.36,-0.02) (1.365,0.015) (1.37,-0.03) (1.375,0.02) (1.38,-0.06) (1.383,0.02) (1.39,-0.02) (1.395,0.015) (1.4,-0.02) (1.405,0.05) (1.408,-0.02) (1.41,0.06) (1.413,-0.02) (1.42,0.02) (1.425,-0.03) (1.43,0.02) (1.435,-0.02) (1.44,0.05) (1.443,-0.04) (1.45,0.02) (1.455,-0.02) (1.46,0.03) (1.465,-0.03) (1.47,0.07) (1.473,-0.04) (1.48,0.02) (1.485,-0.02) (1.49,0.015) (1.495,-0.02) (1.5,0.0)};
\end{axis}
% ---------------- texts
\node[font=\fontsize{22}{22}\selectfont] at (345bp,-22bp) {ANTERIOR};
\node[font=\fontsize{22}{22}\selectfont] at (660bp,-22bp) {POSTERIOR};
\node[font=\fontsize{18}{18}\selectfont] at (345bp,-578bp) {Time (sec)};
\node[font=\fontsize{18}{18}\selectfont] at (660bp,-578bp) {Time (sec)};
\foreach \lab/\yy in {2.0/114.5, 3.0/234, 3.5/353.5, 4.0/472.5}{
  \node[font=\fontsize{18}{18}\selectfont, anchor=west, inner sep=0pt] at (13bp,-\yy bp) {\lab\ BLs\textsuperscript{-1}};
  \node[font=\fontsize{18}{18}\selectfont, rotate=90, inner sep=0pt] at (133bp,-\yy bp) {mV};
}
\end{tikzpicture}
\end{document}
